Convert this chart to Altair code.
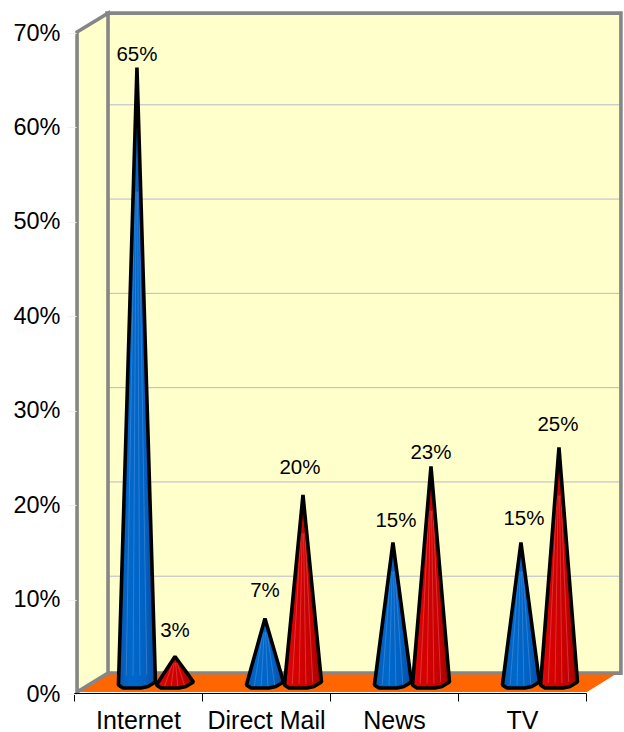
import altair as alt
import pandas as pd

# Survey shares per channel, in percent
CATEGORIES = ["Internet", "Direct Mail", "News", "TV"]
SERIES_A = [65, 7, 15, 15]
SERIES_B = [3, 20, 23, 25]
PERCENT_TICKS = [0, 10, 20, 30, 40, 50, 60, 70]

# Per-label nudges in pixels (dx, dy above the tip) so labels clear their neighbours
NUDGE_A = [(0, 13), (0, 28), (3, 22), (3, 24)]
NUDGE_B = [(0, 26), (-3, 27), (0, 14), (-1, 23)]

W, H = 624, 732
FONT = "Liberation Sans"
PX_PER_BAND = 128.0
CONE_PX_PER_PCT = 9.5
BLUE_CENTER = 0.484
RED_CENTER = 0.781

# Shared scales: x in band units, y in percent; depth of the box is an offset in those units
x_scale = alt.Scale(domain=[0, 4], range=[75, 587], nice=False, zero=False)
wall_y = alt.Scale(domain=[0, 70], range=[692, 32], nice=False, zero=False)
axis_y = alt.Scale(domain=[0, 70], range=[694, 33], nice=False, zero=False)
cone_y = alt.Scale(domain=[0, 70], range=[685, 20], nice=False, zero=False)

# Outline of a cone's base ellipse, in pixels from its centre
BASE_DX = [-18.5, -14, -6, 0, 4, 11, 18.5]
BASE_DY = [0, 3, 3, 3, 3, 1.5, -3]
STREAKS_DX = [-11, -4, 3, 10]


def base_drop(dx):
    for (a, b), (p, q) in zip(zip(BASE_DX, BASE_DX[1:]), zip(BASE_DY, BASE_DY[1:])):
        if a <= dx <= b:
            return p + (q - p) * (dx - a) / (b - a)
    return 0.0


def edge_value(value, dx):
    """Height in percent of the cone's silhouette at dx pixels from its axis."""
    corner = BASE_DX[0] if dx < 0 else BASE_DX[-1]
    corner_value = -base_drop(corner) / CONE_PX_PER_PCT
    return value + (corner_value - value) * dx / corner


def cone_frame(values, center):
    rows = []
    for i, (cat, v) in enumerate(zip(CATEGORIES, values)):
        for dx, dy in zip(BASE_DX, BASE_DY):
            rows.append({"cat": cat, "x": i + center + dx / PX_PER_BAND,
                         "top": edge_value(v, dx), "bottom": -dy / CONE_PX_PER_PCT})
    return pd.DataFrame(rows)


def streak_frame(values, center):
    rows = []
    for i, (cat, v) in enumerate(zip(CATEGORIES, values)):
        for s in STREAKS_DX:
            end = -base_drop(s) / CONE_PX_PER_PCT
            for t in (0.2, 0.98):
                rows.append({"id": f"{cat}{s}", "x": i + center + t * s / PX_PER_BAND,
                             "y": v + (end - v) * t})
    return pd.DataFrame(rows)


def label_frame(values, center, nudges):
    return pd.DataFrame([
        {"x": i + center + dx / PX_PER_BAND, "y": v + dy / CONE_PX_PER_PCT, "label": f"{v}%"}
        for i, (v, (dx, dy)) in enumerate(zip(values, nudges))
    ])


def gradient(stops):
    return alt.Gradient(
        gradient="linear", x1=0, x2=1, y1=0, y2=0,
        stops=[alt.GradientStop(offset=o, color=c) for o, c in stops],
    )


def cone_layers(values, center, fill, streak):
    frame = cone_frame(values, center)
    enc = dict(
        x=alt.X("x:Q", scale=x_scale, axis=None),
        y=alt.Y("top:Q", scale=cone_y, axis=None),
        y2="bottom:Q",
        detail="cat:N",
    )
    body = alt.Chart(frame).mark_area(color=fill).encode(**enc)
    streaks = alt.Chart(streak_frame(values, center)).mark_line(
        color=streak, strokeWidth=1, opacity=0.4
    ).encode(
        x=alt.X("x:Q", scale=x_scale, axis=None),
        y=alt.Y("y:Q", scale=cone_y, axis=None),
        detail="id:N",
    )
    outline = alt.Chart(frame).mark_area(
        fillOpacity=0, fill="white", stroke="black", strokeWidth=3.6, strokeJoin="bevel"
    ).encode(**enc)
    return [body, streaks, outline]


WALL = "#FFFFCC"
EDGE = "#868686"

back_wall = alt.Chart(pd.DataFrame({"x": [0.25, 4.265], "top": [72.0, 72.0], "bottom": [2.0, 2.0]})).mark_area(
    color=WALL, stroke=EDGE, strokeWidth=3.6
).encode(
    x=alt.X("x:Q", scale=x_scale, axis=None),
    y=alt.Y("top:Q", scale=wall_y, axis=None),
    y2="bottom:Q",
)

gridlines = alt.Chart(pd.DataFrame({"v": [12.28, 22.28, 32.28, 42.28, 52.28, 62.28]})).mark_rule(
    color="#B9B9CC", strokeWidth=1
).encode(
    x=alt.value(108),
    x2=alt.value(619),
    y=alt.Y("v:Q", scale=wall_y, axis=None),
)

floor = alt.Chart(pd.DataFrame({
    "x": [0.016, 0.25, 4.0, 4.22],
    "top": [0.0, 1.85, 1.85, 1.85],
    "bottom": [0.0, 0.0, 0.0, 1.85],
})).mark_area(color="#FF6600").encode(
    x=alt.X("x:Q", scale=x_scale, axis=None),
    y=alt.Y("top:Q", scale=wall_y, axis=None),
    y2="bottom:Q",
)

side_wall = alt.Chart(pd.DataFrame({
    "x": [0.016, 0.258], "top": [70.0, 72.0], "bottom": [0.0, 2.0],
})).mark_area(color=WALL, stroke=EDGE, strokeWidth=3.6).encode(
    x=alt.X("x:Q", scale=x_scale, axis=None),
    y=alt.Y("top:Q", scale=wall_y, axis=None),
    y2="bottom:Q",
)

# Percent axis sits on the front edge of the side wall
y_axis = alt.Chart(pd.DataFrame({"v": PERCENT_TICKS})).mark_point(opacity=0).encode(
    y=alt.Y(
        "v:Q", scale=axis_y,
        axis=alt.Axis(
            values=PERCENT_TICKS, offset=-76, domain=False, grid=False, title=None,
            labelExpr="datum.value + '%'", labelFont=FONT, labelFontSize=23.5,
            labelColor="black", labelPadding=7, tickColor="#F1F1F1", tickSize=9,
            labelOverlap=False, labelFlush=False, zindex=1,
        ),
    ),
    x=alt.value(76),
)

# Category axis: ticks on band edges, names centred in each band
x_axis = alt.Chart(pd.DataFrame({"cat": CATEGORIES})).mark_point(opacity=0).encode(
    x=alt.X(
        "cat:N", sort=CATEGORIES,
        scale=alt.Scale(domain=CATEGORIES, range=[74, 586], paddingInner=0, paddingOuter=0),
        axis=alt.Axis(
            orient="bottom", offset=-39, tickBand="extent", grid=False, title=None,
            labelFont=FONT, labelFontSize=25, labelColor="black", labelAngle=0,
            labelPadding=7, tickSize=8, tickColor="black", domainColor="black",
            tickWidth=1, domainWidth=1, labelOverlap=False, labelFlush=False, zindex=1,
        ),
    ),
    y=alt.value(692),
)


def value_labels(values, center, nudges):
    return alt.Chart(label_frame(values, center, nudges)).mark_text(
        font=FONT, fontSize=20.5, color="black", baseline="middle", align="center"
    ).encode(
        x=alt.X("x:Q", scale=x_scale, axis=None),
        y=alt.Y("y:Q", scale=cone_y, axis=None),
        text="label:N",
    )


blue_fill = gradient([(0, "#0A55B0"), (0.3, "#0068CC"), (0.7, "#0062C4"), (1, "#0A4C9C")])
red_fill = gradient([(0, "#DE0A0A"), (0.35, "#D40000"), (0.7, "#C80000"), (1, "#A00000")])

layers = [back_wall, gridlines, floor, side_wall, y_axis, x_axis]
layers += cone_layers(SERIES_A, BLUE_CENTER, blue_fill, "#6FA6DE")
layers += cone_layers(SERIES_B, RED_CENTER, red_fill, "#EE7A7A")
layers += [value_labels(SERIES_A, BLUE_CENTER, NUDGE_A), value_labels(SERIES_B, RED_CENTER, NUDGE_B)]

chart = alt.layer(*layers).resolve_scale(x="independent", y="independent").properties(
    width=W, height=H, padding=0, autosize=alt.AutoSizeParams(type="none"),
    background="white",
).configure_view(stroke=None)

chart.save("out.html", embed_options={"renderer": "svg", "actions": False})
